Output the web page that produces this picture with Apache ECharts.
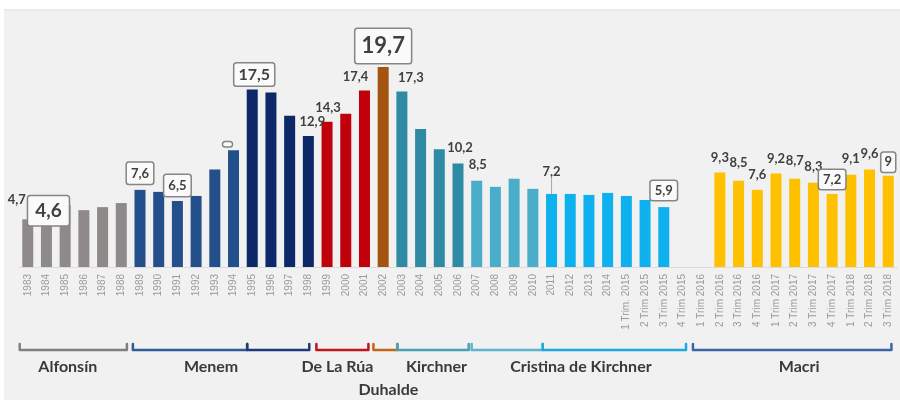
<!DOCTYPE html>
<html>
<head>
<meta charset="utf-8">
<script src="https://cdn.jsdelivr.net/npm/echarts@6/dist/echarts.min.js"></script>
<style>
html,body{margin:0;padding:0;background:#ffffff;}
#c{width:900px;height:400px;}
</style>
</head>
<body>
<div id="c"></div>
<script>
// ---- data ----
var categories = ['1983','1984','1985','1986','1987','1988','1989','1990','1991','1992','1993','1994','1995','1996','1997','1998','1999','2000','2001','2002','2003','2004','2005','2006','2007','2008','2009','2010','2011','2012','2013','2014',
  '1 Trim. 2015','2 Trim 2015','3 Trim 2015','4 Trim 2015','1 Trim 2016','2 Trim 2016','3 Trim 2016','4 Trim 2016','1 Trim 2017','2 Trim 2017','3 Trim 2017','4 Trim 2017','1 Trim 2018','2 Trim 2018','3 Trim 2018'];
var values = [4.7,4.6,6.1,5.6,5.9,6.3,7.6,7.4,6.5,7.0,9.6,11.5,17.5,17.2,14.9,12.9,14.3,15.1,17.4,19.7,17.3,13.6,11.6,10.2,8.5,7.9,8.7,7.7,7.2,7.2,7.1,7.3,
  7.0,6.6,5.9,null,null,9.3,8.5,7.6,9.2,8.7,8.3,7.2,9.1,9.6,9.0];
// government periods: [name, first index, last index]
var periods = [
  ['Alfonsín',0,5],['Menem',6,11],['Menem',12,15],['De La Rúa',16,18],['Duhalde',19,19],
  ['Kirchner',20,23],['Kirchner',24,27],['Cristina de Kirchner',28,34],['Macri',35,46]
];
// labels shown (category index -> text)
var shownLabels = {0:'4,7',1:'4,6',6:'7,6',8:'6,5',11:' ',12:'17,5',15:'12,9',16:'14,3',18:'17,4',19:'19,7',20:'17,3',23:'10,2',24:'8,5',28:'7,2',34:'5,9',
  37:'9,3',38:'8,5',39:'7,6',40:'9,2',41:'8,7',42:'8,3',43:'7,2',44:'9,1',45:'9,6',46:'9'};
// bracket names under the axis
var bracketNames = ['Alfonsín','Menem','De La Rúa','Duhalde','Kirchner','Cristina de Kirchner','Macri'];

// ---- styles ----
var periodColors = ['#8e8a8a','#234f8a','#0c2868','#c0000a','#a3550f','#2f8aa4','#4aadc9','#0fb0ee','#ffc000'];
var txt = '#404040';
var boxStyle = {borderColor:'#858585',borderWidth:1.5,borderRadius:2,backgroundColor:'#fafafa'};
var labelCfg = {
  0:{d:13,dx:-11},
  1:{d:-5,dx:2,box:true,fs:19,pad:[5,7]},
  6:{d:6,box:true,fs:13,pad:[4,4]},
  8:{d:5,box:true,fs:13,pad:[4,4]},
  11:{d:4,dx:-6,box:true,fs:2,pad:[1,4]},
  12:{d:4,dx:2,box:true,fs:16,pad:[3,4]},
  15:{d:8,dx:4},
  16:{d:8,dx:1},
  18:{d:7,dx:-9},
  19:{d:4,box:true,fs:22,pad:[6,6]},
  20:{d:7,dx:9},
  23:{d:9,dx:2},
  24:{d:9,dx:1},
  28:{d:8,dy:-8},
  34:{d:7,box:true,fs:13,pad:[3,4]},
  37:{d:8},38:{d:11},39:{d:9},40:{d:8},41:{d:11},42:{d:9},
  43:{d:5,box:true,fs:13,pad:[3,4]},
  44:{d:9},45:{d:9},
  46:{d:4,box:true,fs:13,pad:[3,3]}
};
var bracketSegs = [ // [from, to] in category units, colour
  [-0.43,5.3,'#808080'],[5.62,11.73,'#2e5c99'],[11.73,15.05,'#1f3a78'],[15.43,18.21,'#c0141c'],
  [18.48,19.76,'#c0681a'],[19.76,23.57,'#4aa0b5'],[23.73,27.53,'#5db4cc'],[27.53,35.19,'#1aa9e0'],[35.56,46.17,'#3c64a8']
];
var bracketText = [[2.14,0],[9.8,0],[16.55,0],[19.28,1],[21.85,0],[29.57,0],[41.24,0]];

function colorOf(i){
  for (var p=0;p<periods.length;p++){ if(i>=periods[p][1] && i<=periods[p][2]) return periodColors[p]; }
  return '#888';
}

var data = values.map(function(v,i){
  var item = {value: v, itemStyle:{color: colorOf(i)}};
  if (shownLabels[i] !== undefined){
    var c = labelCfg[i] || {};
    var lab = {show:true, position:'top', distance:c.d||8,
      formatter: shownLabels[i], color: txt, fontFamily:'Lato', fontWeight:'bold', fontSize:c.fs||13};
    if (c.box){ lab.borderColor=boxStyle.borderColor; lab.borderWidth=boxStyle.borderWidth; lab.borderRadius=boxStyle.borderRadius; lab.backgroundColor=boxStyle.backgroundColor; lab.padding=c.pad; }
    item.label = lab;
    if (c.dy){ item.labelLine = {show:true, lineStyle:{color:'#a8a8a8', width:1}}; }
  }
  return item;
});

var chart = echarts.init(document.getElementById('c'), null, {renderer:'canvas'});
chart.setOption({
  backgroundColor: 'transparent',
  animation: false,
  grid: {left: 18.4, right: 2.4, top: 64, bottom: 133},
  xAxis: {
    type: 'category', data: categories,
    axisLine: {show:true, lineStyle:{color:'#dcdcdc', width:1}},
    axisTick: {show:false},
    axisLabel: {interval:0, rotate:90, fontSize:10, color:'#9a9a9a', fontFamily:'Liberation Sans', margin:7}
  },
  yAxis: {type:'value', min:0, max:20, show:false, splitLine:{show:false}},
  series: [{
    type:'bar', data:data, barWidth:11,
    labelLayout: function(p){
      var c = labelCfg[p.dataIndex];
      if (!c) return {};
      return {dx: c.dx || 0, dy: c.dy || 0};
    },
    label:{show:false}
  }]
});

// background panel + brackets from the axis scale
var c0 = chart.convertToPixel({xAxisIndex:0}, 0);
var c1 = chart.convertToPixel({xAxisIndex:0}, 1);
var bw = c1 - c0;
function px(u){ return c0 + u*bw; }
var g = [{type:'rect', z:-10, silent:true, shape:{x:4,y:9,width:896,height:391}, style:{fill:'#f1f1f1'}},
         {type:'rect', z:-9, silent:true, shape:{x:4,y:9,width:896,height:2}, style:{fill:'#e6ecf3'}}];
var yb = 350;
bracketSegs.forEach(function(s){
  var x0 = px(s[0]), x1 = px(s[1]);
  g.push({type:'polyline', silent:true, shape:{points:[[x0,yb-6],[x0,yb],[x1,yb],[x1,yb-6]]},
    style:{stroke:s[2], lineWidth:2.5, fill:null, lineJoin:'round', lineCap:'round'}});
});
bracketText.forEach(function(t,i){
  g.push({type:'text', silent:true, x:px(t[0]), y: t[1] ? 390 : 367,
    style:{text:bracketNames[i], fill:'#3a3a3a', font:'bold 16px Lato', align:'center', verticalAlign:'middle'}});
});
chart.setOption({graphic: g});
</script>
</body>
</html>
